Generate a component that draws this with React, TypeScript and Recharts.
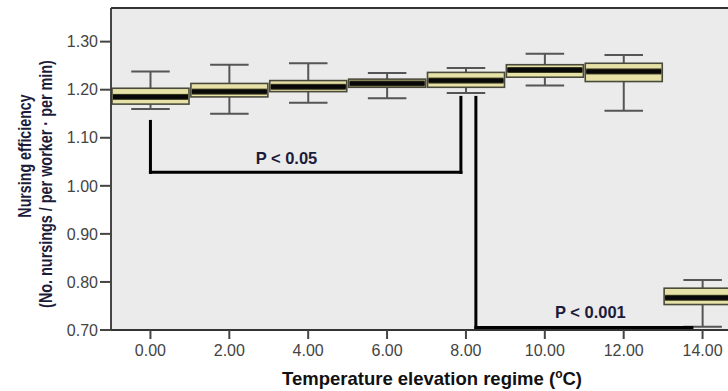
import React from 'react';
import { ComposedChart, Bar, XAxis, YAxis, CartesianGrid, ReferenceLine, ReferenceDot } from 'recharts';

const regimes = [0, 2, 4, 6, 8, 10, 12, 14];
const whiskerLow = [1.160, 1.150, 1.173, 1.182, 1.193, 1.209, 1.156, 0.707];
const quartile1 = [1.170, 1.185, 1.196, 1.205, 1.205, 1.226, 1.217, 0.753];
const medians = [1.185, 1.196, 1.206, 1.213, 1.219, 1.241, 1.238, 0.767];
const quartile3 = [1.203, 1.213, 1.219, 1.222, 1.236, 1.252, 1.255, 0.787];
const whiskerHigh = [1.238, 1.252, 1.255, 1.235, 1.245, 1.275, 1.272, 0.804];

const xTicks = [0, 2, 4, 6, 8, 10, 12, 14];
const yTicks = [0.7, 0.8, 0.9, 1.0, 1.1, 1.2, 1.3];

const bracket1 = { left: 0, right: 7.872, leftTop: 1.134, rightTop: 1.184, bottom: 1.028, label: 'P < 0.05', lx: 3.45, ly: 1.057 };
const bracket2 = { left: 8.252, right: 13.73, top: 1.184, bottom: 0.705, label: 'P < 0.001', lx: 11.155, ly: 0.738 };

const data = regimes.map((x, i) => ({
  x,
  low: whiskerLow[i],
  q1: quartile1[i],
  med: medians[i],
  q3: quartile3[i],
  high: whiskerHigh[i],
}));

const FONT = "Arial, 'Liberation Sans', sans-serif";

const BoxShape = (props: any) => {
  const { x, y, width, height, payload } = props;
  if (payload == null || height == null) return null;
  const { low, q1, med, q3, high } = payload;
  const py = (v: number) => y + ((high - v) / (high - low)) * height;
  const cx = x + width / 2;
  const capW = width / 2;
  const whisk = '#555555';
  return (
    <g>
      <line x1={cx} x2={cx} y1={py(high)} y2={py(q3)} stroke={whisk} strokeWidth={2} />
      <line x1={cx} x2={cx} y1={py(q1)} y2={py(low)} stroke={whisk} strokeWidth={2} />
      <line x1={cx - capW / 2} x2={cx + capW / 2} y1={py(high)} y2={py(high)} stroke={whisk} strokeWidth={2} />
      <line x1={cx - capW / 2} x2={cx + capW / 2} y1={py(low)} y2={py(low)} stroke={whisk} strokeWidth={2} />
      <rect x={x} y={py(q3)} width={width} height={py(q1) - py(q3)} fill="#e6e1a6" stroke="#4a4a3c" strokeWidth={1.6} />
      <rect x={x + 1} y={py(med) - 3} width={width - 2} height={6} fill="#3a3a22" />
      <rect x={x + 1} y={py(med) - 2} width={width - 2} height={4} fill="#080808" />
    </g>
  );
};

const YLabel = () => (
  <g fontFamily={FONT} fontWeight="bold" fontSize={18} fill="#1c1c3a">
    <text x={0} y={0} dy="0.35em" textAnchor="middle" transform="translate(25 156) rotate(-90) scale(0.79 1)">Nursing efficiency</text>
    <text x={0} y={0} dy="0.35em" textAnchor="middle" transform="translate(46 184) rotate(-90) scale(0.8 1)">(No. nursings / per worker · per min)</text>
  </g>
);

const XLabel = () => (
  <text x={432} y={385} textAnchor="middle" fontFamily={FONT} fontWeight="bold" fontSize={18.5} fill="#111">
    Temperature elevation regime (<tspan fontSize={12} dy={-7}>o</tspan><tspan dy={7}>C)</tspan>
  </text>
);

const lineStyle = { stroke: '#000', strokeWidth: 3, strokeLinecap: 'square' as const };
const pLabelStyle = { position: 'center' as const, fill: '#1c1c3a', fontSize: 16.5, fontWeight: 'bold', fontFamily: FONT };

export default function App() {
  return (
    <div style={{ position: 'absolute', left: 0, top: 0, width: 728, height: 391, overflow: 'hidden', background: '#fff' }}>
      <ComposedChart width={760} height={391} data={data} margin={{ top: 8, right: 18, bottom: 0, left: 0 }}>
        <CartesianGrid horizontal={false} vertical={false} fill="#ebebeb" />
        <XAxis
          type="number"
          dataKey="x"
          domain={[-1, 15]}
          ticks={xTicks}
          tickFormatter={(v: number) => v.toFixed(2)}
          height={61}
          tickSize={9}
          tickMargin={6}
          stroke="#333"
          strokeWidth={1.8}
          tick={{ fill: '#444', fontSize: 16, fontFamily: FONT }}
          tickLine={{ stroke: '#444', strokeWidth: 2 }}
          allowDataOverflow
          label={{ content: () => <XLabel /> }}
        />
        <YAxis
          type="number"
          domain={[0.7, 1.37]}
          ticks={yTicks}
          tickFormatter={(v: number) => v.toFixed(2)}
          width={111}
          tickSize={11}
          tickMargin={2}
          stroke="#333"
          strokeWidth={1.8}
          tick={{ fill: '#444', fontSize: 16, fontFamily: FONT }}
          tickLine={{ stroke: '#444', strokeWidth: 2 }}
          allowDataOverflow
          label={{ content: () => <YLabel /> }}
        />
        <ReferenceLine y={1.37} stroke="#333" strokeWidth={2} />
        <Bar dataKey={(d: any) => [d.low, d.high]} barSize={77} shape={<BoxShape />} isAnimationActive={false} />

        <ReferenceLine segment={[{ x: bracket1.left, y: bracket1.leftTop }, { x: bracket1.left, y: bracket1.bottom }]} {...lineStyle} />
        <ReferenceLine segment={[{ x: bracket1.left, y: bracket1.bottom }, { x: bracket1.right, y: bracket1.bottom }]} {...lineStyle} />
        <ReferenceLine segment={[{ x: bracket1.right, y: bracket1.bottom }, { x: bracket1.right, y: bracket1.rightTop }]} {...lineStyle} />
        <ReferenceLine segment={[{ x: bracket2.left, y: bracket2.top }, { x: bracket2.left, y: bracket2.bottom }]} {...lineStyle} />
        <ReferenceLine segment={[{ x: bracket2.left, y: bracket2.bottom }, { x: bracket2.right, y: bracket2.bottom }]} {...lineStyle} />

        <ReferenceDot x={bracket1.lx} y={bracket1.ly} r={0} fill="none" stroke="none" label={{ value: bracket1.label, ...pLabelStyle }} />
        <ReferenceDot x={bracket2.lx} y={bracket2.ly} r={0} fill="none" stroke="none" label={{ value: bracket2.label, ...pLabelStyle }} />
      </ComposedChart>
    </div>
  );
}
